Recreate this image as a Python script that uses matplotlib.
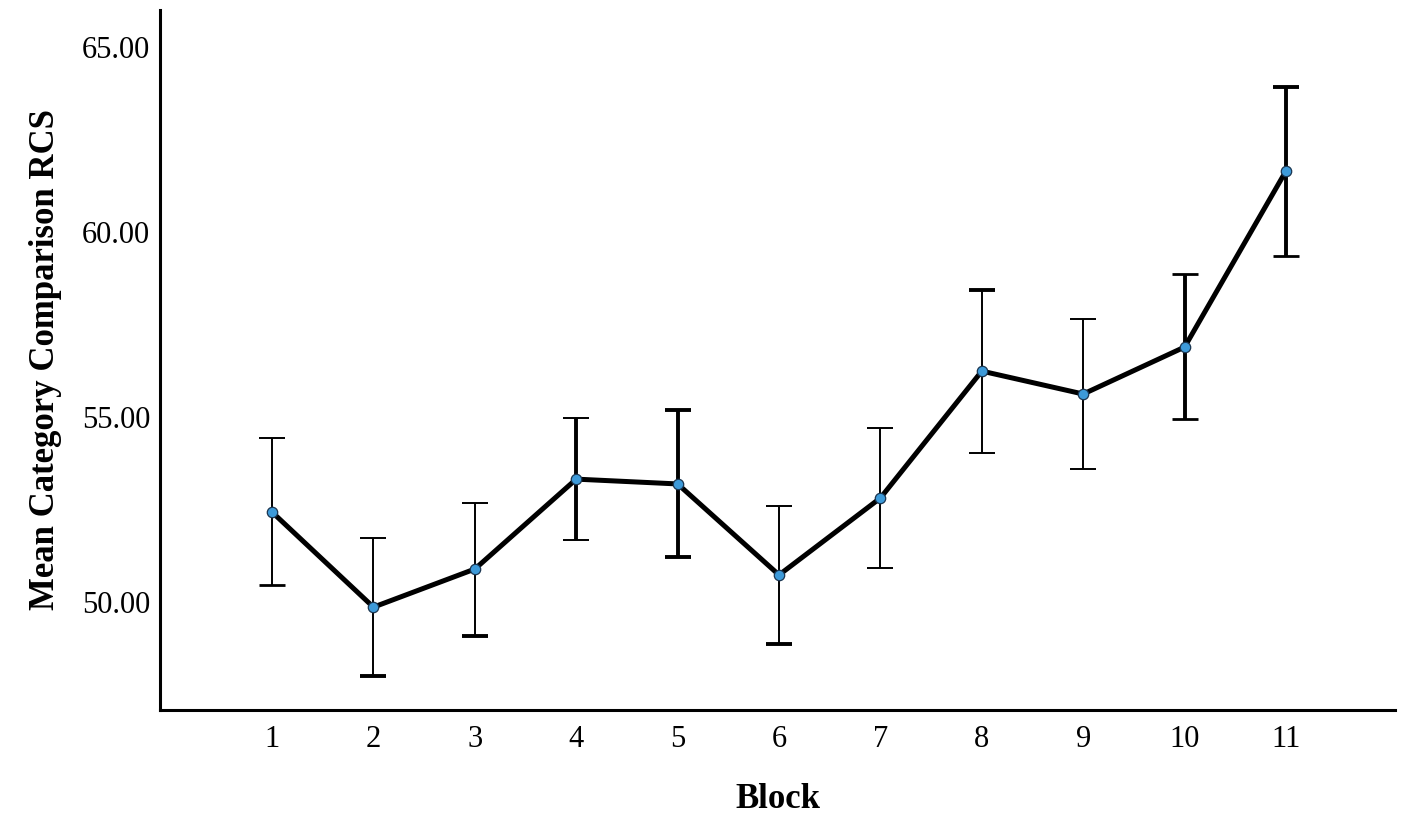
import numpy as np
import matplotlib
matplotlib.use("Agg")
from matplotlib import pyplot as plt

blocks = [1, 2, 3, 4, 5, 6, 7, 8, 9, 10, 11]
means = [52.43, 49.86, 50.89, 53.32, 53.19, 50.73, 52.81, 56.24, 55.62, 56.89, 61.65]
upper = [54.43, 51.73, 52.68, 54.97, 55.19, 52.59, 54.70, 58.43, 57.65, 58.86, 63.92]
lower = [50.46, 48.00, 49.08, 51.68, 51.22, 48.86, 50.92, 54.03, 53.59, 54.95, 59.35]
# epaisseurs (le rendu original n est pas uniforme)
stem_lw = [1.4, 1.4, 1.4, 2.8, 2.8, 1.4, 1.4, 1.4, 1.4, 2.8, 2.8]
top_lw = [1.4, 1.4, 1.4, 1.4, 2.8, 1.4, 1.4, 2.8, 1.4, 2.0, 2.8]
bot_lw = [2.0, 2.8, 2.8, 1.4, 2.8, 2.8, 1.4, 1.4, 1.4, 2.0, 2.0]

plt.rcParams['font.family'] = ['Liberation Serif', 'DejaVu Serif']

fig = plt.figure(figsize=(14.17, 8.33), dpi=100)
ax = fig.add_axes([160/1417, 1 - 710/833, (1395-160)/1417, 700/833])

for i in range(len(blocks)):
    ax.vlines(blocks[i], lower[i], upper[i], color='black', linewidth=stem_lw[i], zorder=2)
    ax.plot(blocks[i], upper[i], marker='_', color='black', markersize=19,
            markeredgewidth=top_lw[i], zorder=2)
    ax.plot(blocks[i], lower[i], marker='_', color='black', markersize=19,
            markeredgewidth=bot_lw[i], zorder=2)

ax.plot(blocks, means, color='black', linewidth=3.6, zorder=3)
ax.plot(blocks, means, 'o', markersize=7.5, markerfacecolor='#3d9ad9',
        markeredgecolor='#1a3550', markeredgewidth=0.9, zorder=4)

ax.set_xlim(-0.105, 12.075)
ax.set_ylim(47.08, 66.0)
ax.set_xticks(blocks)
ax.set_xticklabels([str(b) for b in blocks])
ax.set_yticks([50, 55, 60, 65])
ax.set_yticklabels(['50.00', '55.00', '60.00', '65.00'])
ax.tick_params(length=0, labelsize=22, pad=7)
ax.tick_params(axis='x', pad=11)

for s in ['top', 'right']:
    ax.spines[s].set_visible(False)
for s in ['left', 'bottom']:
    ax.spines[s].set_linewidth(2.2)

ax.set_xlabel('Block', fontsize=25, fontweight='bold', labelpad=21)
ax.set_ylabel('Mean Category Comparison RCS', fontsize=25, fontweight='bold', labelpad=14)

fig.savefig('out.png', dpi=100)
